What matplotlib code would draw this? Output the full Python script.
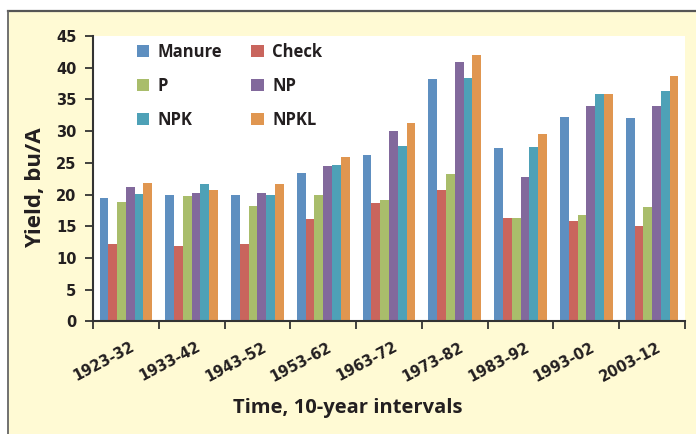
import numpy as np
import matplotlib.pyplot as plt
from matplotlib.patches import Rectangle
from matplotlib.lines import Line2D

# =========================
# DATA
# =========================

periods = ["1923-32", "1933-42", "1943-52", "1953-62", "1963-72",
           "1973-82", "1983-92", "1993-02", "2003-12"]

manure = [19.4, 20.0, 19.9, 23.4, 26.2, 38.2, 27.3, 32.2, 32.0]
check = [12.2, 11.9, 12.2, 16.1, 18.7, 20.7, 16.3, 15.8, 15.0]
p = [18.8, 19.7, 18.2, 19.9, 19.1, 23.2, 16.3, 16.8, 18.0]
np_ = [21.2, 20.2, 20.2, 24.5, 30.0, 40.9, 22.7, 33.9, 33.9]
npk = [20.1, 21.6, 19.9, 24.6, 27.6, 38.3, 27.5, 35.9, 36.3]
npkl = [21.8, 20.7, 21.6, 26.0, 31.3, 42.0, 29.5, 35.8, 38.7]

series = [("Manure", manure, "#5e8fc0"),
          ("Check", check, "#c9655d"),
          ("P", p, "#a9bd6b"),
          ("NP", np_, "#82699c"),
          ("NPK", npk, "#4ea1b7"),
          ("NPKL", npkl, "#e09650")]

# =========================
# FIGURE
# =========================

FONT = "Open Sans"
FONT_NUM = "DejaVu Sans"   # wider digits, closer to the original
TXT = "#231f20"
CREAM = "#fffad4"

fig = plt.figure(figsize=(6.96, 4.34), dpi=100, facecolor=CREAM)

# white margins + frame lines
fig.patches.append(Rectangle((0, 1 - 11 / 434), 1, 11 / 434, transform=fig.transFigure,
                             facecolor="white", edgecolor="none", zorder=0))
fig.patches.append(Rectangle((0, 0), 8 / 696, 1, transform=fig.transFigure,
                             facecolor="white", edgecolor="none", zorder=0))
fig.lines.append(Line2D([8 / 696, 1], [1 - 11 / 434] * 2, transform=fig.transFigure,
                        color="#555555", lw=1.6))
fig.lines.append(Line2D([8 / 696] * 2, [0, 1 - 11 / 434], transform=fig.transFigure,
                        color="#666666", lw=1.3))

ax = fig.add_axes([93 / 696, 1 - 321.4 / 434, 592 / 696, 285.4 / 434])
ax.set_facecolor("white")

x = np.arange(len(periods))
n = len(series)
w = 0.8 / n
handles = {}
for i, (nom, vals, col) in enumerate(series):
    b = ax.bar(x - 0.4 + w * (i + 0.5), vals, width=w, color=col, label=nom)
    handles[nom] = b

ax.set_xlim(-0.5, len(periods) - 0.5)
ax.set_ylim(0, 45)
ax.set_yticks(range(0, 46, 5))

# ticks at category boundaries, labels at centers
ax.set_xticks(np.arange(-0.5, len(periods), 1.0))
ax.set_xticklabels([])
ax.set_xticks(x + 0.06, minor=True)
ax.set_xticklabels(periods, minor=True, rotation=28, ha="right",
                   rotation_mode="anchor", fontsize=10.5, fontfamily=FONT_NUM,
                   fontweight="bold", color=TXT)
ax.tick_params(axis="x", which="minor", length=0, pad=13)
ax.tick_params(axis="x", which="major", length=6, width=1.3, color="#333333")
ax.tick_params(axis="y", length=6, width=1.3, color="#333333", pad=6)
for lab in ax.get_yticklabels():
    lab.set_fontfamily(FONT_NUM)
    lab.set_fontweight("bold")
    lab.set_fontsize(10.5)
    lab.set_color(TXT)

for s in ["top", "right"]:
    ax.spines[s].set_visible(False)
for s in ["left", "bottom"]:
    ax.spines[s].set_color("#333333")
    ax.spines[s].set_linewidth(1.5)

fig.text(36 / 696, 1 - 188 / 434, "Yield, bu/A", rotation=90, ha="center", va="center",
         fontsize=16, fontfamily=FONT, fontweight="bold", color=TXT)
fig.text(348 / 696, 1 - 408 / 434, "Time, 10-year intervals", ha="center", va="center",
         fontsize=14.5, fontfamily=FONT, fontweight="bold", color=TXT)

ordre = ["Manure", "P", "NPK", "Check", "NP", "NPKL"]
leg = ax.legend([handles[k] for k in ordre], ordre, ncol=2, loc="upper left",
                bbox_to_anchor=(0.074, 0.975), frameon=False, borderpad=0,
                borderaxespad=0, labelspacing=0.95, handlelength=0.75,
                handleheight=0.7, handletextpad=0.5, columnspacing=1.75,
                prop={"family": FONT, "weight": "bold", "size": 12})
for t in leg.get_texts():
    t.set_color(TXT)

fig.savefig("out.png", dpi=100, facecolor=CREAM)
